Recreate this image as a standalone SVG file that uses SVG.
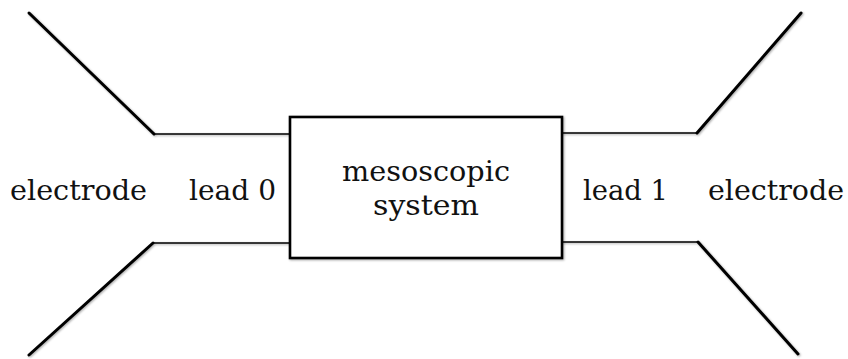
<svg xmlns="http://www.w3.org/2000/svg" width="848" height="359" viewBox="0 0 848 359">
  <defs>
    <filter id="shadow" filterUnits="userSpaceOnUse" x="0" y="0" width="848" height="359">
      <feDropShadow dx="1" dy="1" stdDeviation="0.8" flood-color="#000" flood-opacity="0.35"/>
    </filter>
  </defs>
  <style>
    .wire { fill: none; stroke: #000; stroke-linecap: round; stroke-linejoin: miter; }
    .thick { stroke-width: 3; }
    .thin { stroke-width: 1.6; }
    .label { font-family: "DejaVu Serif", "Liberation Serif", serif; font-size: 28px; fill: #111; }
  </style>
  <rect width="848" height="359" fill="#fff"/>

  <g id="connectors" filter="url(#shadow)">
    <!-- left electrode funnel -->
    <path class="wire thick" d="M29,13 L154,134"/>
    <path class="wire thin" d="M154,134 L290,134"/>
    <path class="wire thick" d="M29,355 L153,243"/>
    <path class="wire thin" d="M153,243 L290,243"/>
    <!-- right electrode funnel -->
    <path class="wire thin" d="M562,133 L697,133"/>
    <path class="wire thick" d="M697,133 L801,13"/>
    <path class="wire thin" d="M562,242 L698,242"/>
    <path class="wire thick" d="M698,242 L798,354"/>
  </g>

  <g id="system">
    <rect x="290" y="117" width="272" height="141" fill="#fff" stroke="#000" stroke-width="2.6" filter="url(#shadow)"/>
    <text class="label" x="426" y="181" text-anchor="middle" textLength="168" lengthAdjust="spacingAndGlyphs">mesoscopic</text>
    <text class="label" x="426" y="215" text-anchor="middle" textLength="106" lengthAdjust="spacingAndGlyphs">system</text>
  </g>

  <g id="lead0">
    <text class="label" x="189" y="200" textLength="87" lengthAdjust="spacingAndGlyphs">lead 0</text>
  </g>
  <g id="lead1">
    <text class="label" x="583" y="200" textLength="85" lengthAdjust="spacingAndGlyphs">lead 1</text>
  </g>
  <g id="electrode-left">
    <text class="label" x="10" y="200" textLength="137" lengthAdjust="spacingAndGlyphs">electrode</text>
  </g>
  <g id="electrode-right">
    <text class="label" x="708" y="200" textLength="136" lengthAdjust="spacingAndGlyphs">electrode</text>
  </g>
</svg>
